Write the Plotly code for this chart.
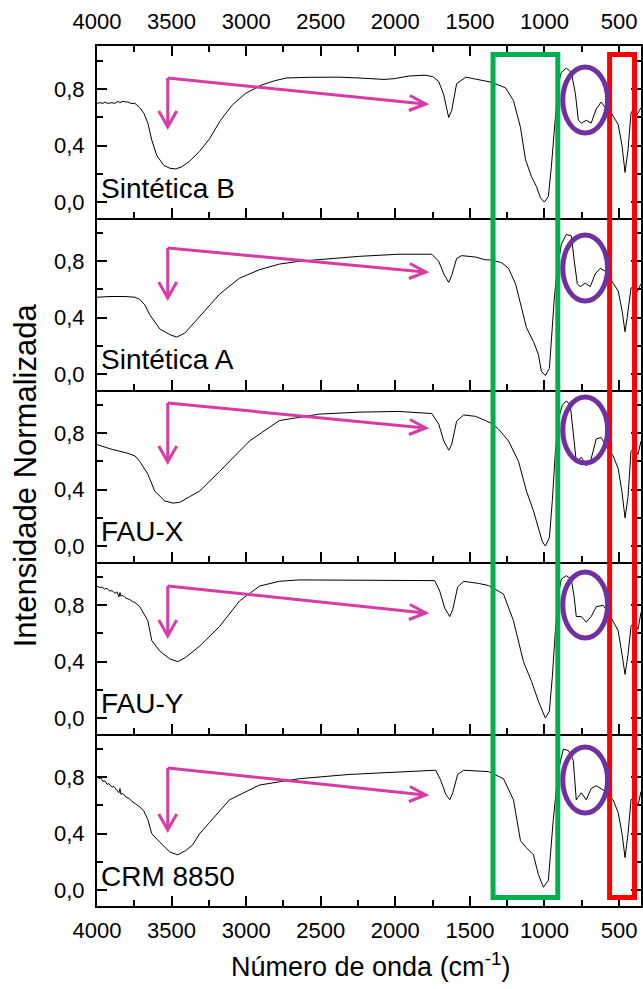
import plotly.graph_objects as go
from plotly.subplots import make_subplots

# ---------------- data ----------------
sample_names = ["Sintética B", "Sintética A", "FAU-X", "FAU-Y", "CRM 8850"]

wn_b = [4000, 3980, 3960, 3947, 3927, 3900, 3880, 3860, 3846, 3826, 3806, 3793, 3773, 3746, 3713, 3686,
        3659, 3633, 3599, 3552, 3512, 3472, 3432, 3379,
        3312, 3245, 3172, 3092, 3005, 2898, 2811, 2731, 2577, 2377, 2243, 2076, 2009, 1909, 1802, 1749,
        1709, 1675, 1655, 1642, 1622, 1589, 1528, 1441, 1355, 1261, 1208, 1161, 1127, 1087, 1054, 1027,
        1001, 974, 954, 927, 907, 887, 854, 820, 793, 773, 753, 720, 687, 653, 620, 593, 566, 540, 506,
        480, 460, 440, 420, 400, 380, 353]
int_b = [0.70, 0.705, 0.70, 0.71, 0.70, 0.705, 0.70, 0.715, 0.705, 0.715, 0.71, 0.71, 0.70, 0.70, 0.67, 0.63,
         0.56, 0.44, 0.33, 0.26, 0.24, 0.235, 0.25, 0.29,
         0.36, 0.45, 0.58, 0.69, 0.77, 0.83, 0.86, 0.88, 0.885, 0.886, 0.88, 0.87, 0.875, 0.894, 0.90, 0.89,
         0.855, 0.76, 0.66, 0.60, 0.65, 0.84, 0.886, 0.87, 0.85, 0.81, 0.72, 0.53, 0.30, 0.18, 0.11, 0.03,
         0.00, 0.04, 0.25, 0.60, 0.84, 0.92, 0.95, 0.92, 0.77, 0.58, 0.56, 0.58, 0.56, 0.66, 0.71, 0.67,
         0.66, 0.61, 0.55, 0.40, 0.21, 0.37, 0.63, 0.67, 0.62, 0.67]

wn_a = [4000, 3913, 3813, 3746, 3713, 3679, 3646, 3613, 3579, 3512, 3466, 3412, 3359, 3279, 3178, 3045,
        2911, 2778, 2644, 2444, 2243, 1976, 1756, 1709, 1675, 1642, 1622, 1589, 1555, 1462, 1395, 1355,
        1288, 1241, 1194, 1154, 1121, 1074, 1041, 1021, 994, 967, 954, 934, 914, 887, 854, 820, 800, 780,
        760, 727, 693, 660, 627, 593, 540, 506, 480, 460, 446, 420, 400, 380, 353]
int_a = [0.545, 0.55, 0.55, 0.545, 0.53, 0.49, 0.42, 0.37, 0.32, 0.28, 0.262, 0.29, 0.355, 0.447, 0.567, 0.68,
         0.74, 0.78, 0.80, 0.82, 0.835, 0.85, 0.85, 0.80, 0.71, 0.65, 0.70, 0.82, 0.84, 0.83, 0.81, 0.81,
         0.79, 0.75, 0.64, 0.47, 0.33, 0.23, 0.14, 0.02, -0.01, 0.04, 0.26, 0.54, 0.75, 0.92, 0.99, 0.98, 0.80, 0.64,
         0.62, 0.645, 0.62, 0.71, 0.75, 0.73, 0.645, 0.59, 0.45, 0.30, 0.40, 0.61, 0.62, 0.58, 0.64]

wn_x = [4000, 3913, 3800, 3746, 3713, 3659, 3613, 3546, 3492, 3446, 3379, 3312, 3178, 2978, 2778, 2510,
        2243, 1976, 1756, 1709, 1675, 1642, 1622, 1589, 1542, 1462, 1395, 1355, 1308, 1241, 1174, 1121,
        1074, 1041, 1014, 994, 967, 947, 927, 907, 880, 854, 827, 807, 787, 753, 720, 687, 653, 620, 593,
        540, 506, 480, 460, 440, 420, 400, 373, 353]
int_x = [0.72, 0.69, 0.66, 0.64, 0.60, 0.51, 0.39, 0.32, 0.305, 0.31, 0.35, 0.39, 0.53, 0.745, 0.89, 0.936,
         0.95, 0.955, 0.94, 0.865, 0.745, 0.68, 0.72, 0.886, 0.93, 0.92, 0.89, 0.87, 0.83, 0.745, 0.60, 0.39,
         0.25, 0.13, 0.03, 0.0, 0.06, 0.33, 0.67, 0.90, 1.0, 1.03, 1.0, 0.80, 0.60, 0.63, 0.57, 0.62, 0.76, 0.77, 0.72,
         0.64, 0.55, 0.38, 0.20, 0.35, 0.67, 0.70, 0.65, 0.745]

wn_y = [4000, 3980, 3967, 3950, 3933, 3913, 3900, 3880, 3866, 3853, 3846, 3840, 3826, 3813, 3793, 3780,
        3760, 3746, 3713, 3686, 3659, 3633, 3579, 3512, 3459,
        3406, 3312, 3178, 3045, 2911, 2778, 2644, 1976, 1736, 1702, 1669, 1635, 1615, 1582, 1542, 1441,
        1375, 1275, 1208, 1141, 1087, 1041, 994, 967, 947, 927, 907, 887, 854, 820, 800, 787, 753, 720,
        687, 653, 607, 573, 540, 506, 480, 460, 440, 420, 400, 373, 353]
int_y = [0.936, 0.925, 0.93, 0.915, 0.92, 0.90, 0.905, 0.885, 0.895, 0.86, 0.89, 0.865, 0.87, 0.855, 0.845, 0.84,
         0.825, 0.82, 0.79, 0.74, 0.69, 0.55, 0.475, 0.42, 0.40,
         0.43, 0.51, 0.65, 0.83, 0.936, 0.97, 0.98, 0.98, 0.975, 0.90, 0.78, 0.72, 0.77, 0.93, 0.97, 0.955,
         0.94, 0.88, 0.69, 0.40, 0.26, 0.12, 0.0, 0.05, 0.30, 0.62, 0.88, 0.985, 1.01, 0.985, 0.85, 0.72, 0.72, 0.68,
         0.72, 0.79, 0.80, 0.75, 0.69, 0.62, 0.45, 0.31, 0.45, 0.65, 0.68, 0.63, 0.75]

wn_c = [4000, 3987, 3973, 3960, 3947, 3933, 3920, 3900, 3887, 3866, 3853, 3846, 3840, 3826, 3806, 3786,
        3766, 3713, 3686, 3659, 3633, 3579, 3512, 3459, 3406,
        3359, 3312, 3245, 3112, 2911, 2644, 2310, 1976, 1729, 1696, 1662, 1635, 1615, 1582, 1542, 1375,
        1275, 1208, 1161, 1121, 1074, 1041, 1007, 974, 941, 907, 874, 840, 807, 787, 753, 720, 687, 653,
        607, 540, 506, 480, 460, 440, 420, 400, 373, 353]
int_c = [0.81, 0.79, 0.795, 0.77, 0.775, 0.75, 0.755, 0.73, 0.735, 0.71, 0.69, 0.72, 0.68, 0.685, 0.66, 0.65,
         0.63, 0.59, 0.56, 0.50, 0.40, 0.34, 0.27, 0.25, 0.28,
         0.32, 0.40, 0.48, 0.64, 0.745, 0.79, 0.82, 0.84, 0.85, 0.78, 0.68, 0.64, 0.69, 0.82, 0.85, 0.84,
         0.79, 0.64, 0.35, 0.30, 0.25, 0.11, 0.02, 0.07, 0.50, 0.85, 1.00, 0.99, 0.92, 0.64, 0.69, 0.64, 0.72, 0.74,
         0.71, 0.64, 0.55, 0.40, 0.23, 0.40, 0.64, 0.66, 0.60, 0.70]

spectra_wn = [wn_b, wn_a, wn_x, wn_y, wn_c]
spectra_int = [int_b, int_a, int_x, int_y, int_c]

x_tick_vals = [4000, 3500, 3000, 2500, 2000, 1500, 1000, 500]
y_tick_vals = [0.0, 0.4, 0.8]

# ---------------- layout geometry ----------------
W, H = 643, 989
L, R, T, B = 97, 0, 46, 83
PW, PH = W - L - R, H - T - B
X_RANGE = [4000, 353]
Y_RANGE = [-0.113, 1.107]
FONT = "Liberation Sans, Arial, sans-serif"


def px(x):
    return (x - L) / PW


def py(y):
    return (H - B - y) / PH


fig = make_subplots(rows=5, cols=1, shared_xaxes=True, vertical_spacing=0)

for i in range(5):
    fig.add_trace(go.Scatter(x=spectra_wn[i], y=spectra_int[i], mode="lines",
                             line=dict(color="black", width=1), showlegend=False,
                             hoverinfo="skip"), row=i + 1, col=1)

# invisible carrier so that the top axis of the first panel is drawn
fig.add_trace(go.Scatter(x=wn_b, y=int_b, xaxis="x6", yaxis="y", mode="lines",
                         line=dict(color="rgba(0,0,0,0)", width=0), showlegend=False,
                         hoverinfo="skip"))

axis_common = dict(showline=True, linecolor="black", linewidth=2, ticks="inside",
                   tickcolor="black", tickwidth=1.5, showgrid=False, zeroline=False,
                   tickfont=dict(family=FONT, size=22, color="black"))

for i in range(5):
    xa = "xaxis" if i == 0 else f"xaxis{i + 1}"
    ya = "yaxis" if i == 0 else f"yaxis{i + 1}"
    fig.layout[xa].update(range=X_RANGE, tickvals=x_tick_vals, ticklen=10,
                          minor=dict(dtick=250, tick0=0, ticklen=6, ticks="inside",
                                     tickcolor="black", tickwidth=1.5),
                          showticklabels=(i == 4), ticklabelstandoff=4, **axis_common)
    fig.layout[ya].update(range=Y_RANGE, tickvals=y_tick_vals, tickformat=".1f", ticklen=10,
                          minor=dict(tickvals=[0.2, 0.6, 1.0], ticklen=6, ticks="inside",
                                     tickcolor="black", tickwidth=1.5),
                          ticklabelstandoff=6, mirror="ticks", **axis_common)

# top axis with labels on the first panel
fig.update_layout(xaxis6=dict(overlaying="x", side="top", anchor="y", range=X_RANGE,
                              tickvals=x_tick_vals, ticklen=10, ticklabelstandoff=6,
                              minor=dict(dtick=250, tick0=0, ticklen=6, ticks="inside",
                                         tickcolor="black", tickwidth=1.5),
                              **axis_common))

shapes = []
annotations = []

# green and red rectangles spanning all panels
shapes.append(dict(type="rect", xref="paper", yref="paper", x0=px(494.5), x1=px(559.5),
                   y0=py(897.5), y1=py(54.5), line=dict(color="#00B050", width=5)))
shapes.append(dict(type="rect", xref="paper", yref="paper", x0=px(611.5), x1=px(636.5),
                   y0=py(897.5), y1=py(54.5), line=dict(color="#FF0000", width=5)))

panel_zero = [202, 373, 545, 717, 890]
circle_cy = [100, 268, 430, 605, 780]
arrow_corner = [78, 248, 403, 586, 768]
arrow_right = [104, 272, 428, 613, 795]
arrow_down = [127, 298, 462, 636, 830]
MAG = "#D63CA4"

for i in range(5):
    cy = circle_cy[i]
    shapes.append(dict(type="circle", xref="paper", yref="paper", x0=px(564.5), x1=px(609.5),
                       y0=py(cy + 33), y1=py(cy - 33), line=dict(color="#7030A0", width=5)))
    c = arrow_corner[i]
    # vertical arrow
    shapes.append(dict(type="line", xref="paper", yref="paper", x0=px(168), x1=px(168),
                       y0=py(c), y1=py(arrow_down[i] - 1), line=dict(color=MAG, width=3)))
    d = arrow_down[i]
    shapes.append(dict(type="path", xref="paper", yref="paper",
                       path=f"M {px(159)},{py(d - 16)} L {px(168)},{py(d)} L {px(177)},{py(d - 16)}",
                       line=dict(color=MAG, width=3)))
    # slanted arrow
    rt = arrow_right[i]
    shapes.append(dict(type="line", xref="paper", yref="paper", x0=px(168), x1=px(426),
                       y0=py(c), y1=py(rt), line=dict(color=MAG, width=3)))
    shapes.append(dict(type="path", xref="paper", yref="paper",
                       path=f"M {px(411)},{py(rt - 8.5)} L {px(427)},{py(rt)} L {px(410)},{py(rt + 6.5)}",
                       line=dict(color=MAG, width=3)))
    # sample label
    annotations.append(dict(text=sample_names[i], xref="paper", yref="paper", x=px(99),
                            y=py(panel_zero[i] - 14), xanchor="left", yanchor="middle",
                            showarrow=False, font=dict(family=FONT, size=28, color="black")))

annotations.append(dict(text="Número de onda (cm<sup>-1</sup>)", xref="paper", yref="paper",
                        x=px(372), y=py(965), xanchor="center", yanchor="middle", showarrow=False,
                        font=dict(family=FONT, size=27, color="black")))
annotations.append(dict(text="Intensidade Normalizada", xref="paper", yref="paper",
                        x=px(25), y=py(475), xanchor="center", yanchor="middle", showarrow=False,
                        textangle=-90, font=dict(family=FONT, size=31, color="black")))

fig.update_layout(width=W, height=H, margin=dict(l=L, r=R, t=T, b=B, pad=0),
                  paper_bgcolor="white", plot_bgcolor="white", separators=", ",
                  shapes=shapes, annotations=annotations, showlegend=False)

fig.write_html("out.html", config={"displayModeBar": False},
               post_script="document.body.style.margin='0';")
